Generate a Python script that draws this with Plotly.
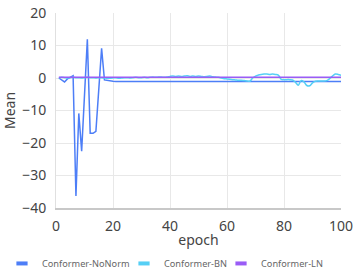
import plotly.graph_objects as go

epochs = list(range(1, 101))

nonorm = [0.0, -0.5, -1.2, -0.3, 0.2, 0.7, -36.3, -10.9, -22.5, -5.0,
          11.9, -17.0, -17.0, -16.4, -3.5, 9.1, -0.6, -0.8, -0.9, -1.0,
          -1.05, -1.1, -1.1, -1.1, -1.1, -1.1, -1.1, -1.1, -1.1, -1.1,
          -1.1, -1.1, -1.1, -1.1, -1.1, -1.1, -1.1, -1.1, -1.1, -1.1,
          -1.1, -1.1, -1.1, -1.1, -1.1, -1.1, -1.1, -1.1, -1.1, -1.1,
          -1.1, -1.1, -1.1, -1.1, -1.1, -1.1, -1.1, -1.1, -1.1, -1.1,
          -1.1, -1.1, -1.1, -1.1, -1.1, -1.1, -1.1, -1.1, -1.1, -1.1,
          -1.1, -1.1, -1.1, -1.1, -1.1, -1.1, -1.1, -1.1, -1.1, -1.1,
          -1.1, -1.1, -1.1, -1.1, -1.1, -1.1, -1.1, -1.1, -1.1, -1.1,
          -1.1, -1.1, -1.1, -1.1, -1.1, -1.1, -1.1, -1.1, -1.1, -1.1]

bn = [0.1, 0.2, 0.1, 0.0, 0.1, 0.2, 0.1, 0.1, 0.0, 0.1,
      0.2, 0.1, 0.1, 0.0, 0.1, 0.1, 0.0, -0.1, -0.1, 0.0,
      0.1, -0.1, 0.0, 0.1, 0.1, 0.0, 0.1, 0.2, 0.1, 0.1,
      0.2, 0.1, 0.2, 0.3, 0.2, 0.3, 0.3, 0.2, 0.3, 0.5,
      0.6, 0.5, 0.6, 0.5, 0.6, 0.7, 0.5, 0.6, 0.5, 0.6,
      0.5, 0.4, 0.5, 0.6, 0.4, 0.3, 0.2, 0.0, -0.2, -0.3,
      -0.4, -0.5, -0.6, -0.7, -0.7, -0.8, -0.9, -1.0, 0.0, 0.6,
      0.9, 1.1, 1.2, 1.2, 1.1, 1.2, 1.1, 0.9, -0.4, -0.5,
      -0.5, -0.5, -0.6, -1.3, -2.2, -0.8, -1.2, -2.3, -2.4, -1.5,
      -1.0, -0.9, -0.9, -0.9, -0.8, -0.2, 0.6, 1.2, 1.1, 0.8]

ln = [0.2] * 100

series_names = ["Conformer-NoNorm", "Conformer-BN", "Conformer-LN"]
colors = ["#4d7ef7", "#55cff5", "#9a5cf6"]
legend_ids = ["legend", "legend2", "legend3"]
legend_x = [-0.1895, 0.2386, 0.579]

fig = go.Figure()
for name, vals, col, shape, lid in zip(series_names, [nonorm, bn, ln], colors,
                                       ["linear", "spline", "linear"], legend_ids):
    fig.add_trace(go.Scatter(x=epochs, y=vals, mode="lines", name=name,
                             line=dict(color=col, width=1.5, shape=shape),
                             showlegend=False, legendgroup=name))
    fig.add_trace(go.Scatter(x=[None], y=[None], mode="markers", name=name,
                             legendgroup=name, showlegend=True, legend=lid,
                             marker=dict(symbol="line-ew", size=8, color=col,
                                         line=dict(color=col, width=4))))

font_family = "Noto Sans, Open Sans, sans-serif"
legend_style = dict(orientation="h", xanchor="left", y=-0.21, yanchor="top",
                    font=dict(size=9.2, color="#666"), itemwidth=30,
                    bgcolor="rgba(0,0,0,0)")
fig.update_layout(
    width=354, height=278,
    margin=dict(l=56, r=13, t=13, b=70, autoexpand=False),
    paper_bgcolor="white", plot_bgcolor="white",
    font=dict(family=font_family, color="#444", size=14),
    legend=dict(x=legend_x[0], **legend_style),
    legend2=dict(x=legend_x[1], **legend_style),
    legend3=dict(x=legend_x[2], **legend_style),
)
fig.update_xaxes(range=[0, 100], dtick=20, showgrid=True, gridcolor="#e8e8e8",
                 gridwidth=1, showline=True, linecolor="#c8c8c8", linewidth=1.5,
                 zeroline=False, ticks="", ticklabelstandoff=4, automargin=False,
                 ticklabeloverflow="allow",
                 title=dict(text="epoch", standoff=2, font=dict(size=14)),
                 tickfont=dict(size=14, color="#444"), mirror=False)
fig.update_yaxes(range=[-40, 20], dtick=10, showgrid=True, gridcolor="#e8e8e8",
                 gridwidth=1, showline=True, linecolor="#e0e0e0", linewidth=1,
                 zeroline=False, ticks="", ticklabelstandoff=6, automargin=False,
                 ticklabeloverflow="allow",
                 title=dict(text="Mean", standoff=6, font=dict(size=14)),
                 tickfont=dict(size=14, color="#444"))

fig.write_html("out.html", config={"displayModeBar": False},
               post_script="document.body.style.margin='0';")
